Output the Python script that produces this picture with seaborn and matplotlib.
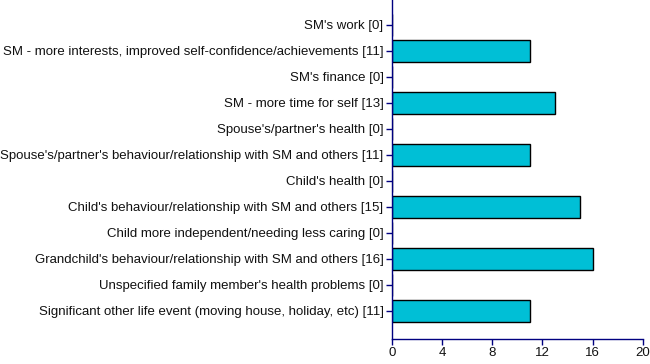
import matplotlib
matplotlib.use("Agg")
import matplotlib.pyplot as plt
import seaborn as sns
import pandas as pd

categories = [
    "SM's work",
    "SM - more interests, improved self-confidence/achievements",
    "SM's finance",
    "SM - more time for self",
    "Spouse's/partner's health",
    "Spouse's/partner's behaviour/relationship with SM and others",
    "Child's health",
    "Child's behaviour/relationship with SM and others",
    "Child more independent/needing less caring",
    "Grandchild's behaviour/relationship with SM and others",
    "Unspecified family member's health problems",
    "Significant other life event (moving house, holiday, etc)",
]
counts = [0, 11, 0, 13, 0, 11, 0, 15, 0, 16, 0, 11]
x_ticks = [0, 4, 8, 12, 16, 20]

labels = [f"{c} [{n}]" for c, n in zip(categories, counts)]
df = pd.DataFrame({"label": labels, "count": counts})

sns.set_style("white")
plt.rcParams['font.family'] = ['Liberation Sans', 'DejaVu Sans']

axis_col = '#000080'
fig = plt.figure(figsize=(6.5, 3.64), dpi=100)
ax = fig.add_axes([0.603, 0.069, 0.386, 0.931])

sns.barplot(data=df, x="count", y="label", orient="h", color='#00BFD6',
            edgecolor='black', linewidth=1.0, width=0.83, saturation=1, ax=ax)

ax.set_xlim(0, 20)
ax.set_ylim(12.08, -0.96)
ax.set_xticks(x_ticks)
ax.set_xlabel("")
ax.set_ylabel("")

for side in ['top', 'right']:
    ax.spines[side].set_visible(False)
for side in ['left', 'bottom']:
    ax.spines[side].set_color(axis_col)
    ax.spines[side].set_linewidth(1.0)

ax.tick_params(axis='both', which='both', direction='out', length=4,
               width=1, color=axis_col, labelsize=9.5, labelcolor='#111111', pad=2,
               left=True, bottom=True)

fig.savefig("out.png", dpi=100)
